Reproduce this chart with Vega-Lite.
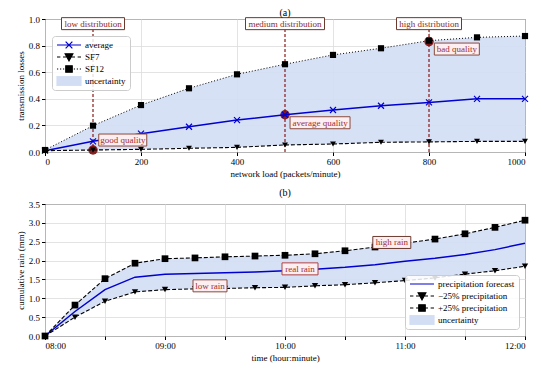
{
  "$schema": "https://vega.github.io/schema/vega-lite/v6.json",
  "padding": {"left": 15, "top": 7, "right": 5, "bottom": 2},
  "spacing": 8,
  "config": {
    "font": "Liberation Serif",
    "view": {"stroke": "#222", "strokeWidth": 1},
    "axis": {"labelFontSize": 9, "titleFontSize": 9, "labelColor": "#000", "titleColor": "#000", "titleFontWeight": "normal", "tickColor": "#000", "domain": false, "gridColor": "#dcdcdc", "gridWidth": 0.8, "tickSize": 3.5, "labelPadding": 2, "titlePadding": 3, "labelOverlap": false},
    "title": {"fontSize": 10, "fontWeight": "normal", "offset": 2, "color": "#000"},
    "legend": {"fillColor": "rgba(255,255,255,0.85)", "strokeColor": "#cccccc", "cornerRadius": 3, "padding": 4, "labelFontSize": 9, "labelColor": "#000", "symbolSize": 576, "clipHeight": 10, "labelOffset": 3, "symbolStrokeWidth": 1.2, "symbolOpacity": 1, "rowPadding": 2}
  },
  "resolve": {"scale": {"fill": "independent", "stroke": "independent", "shape": "independent"}, "legend": {"fill": "independent", "stroke": "independent", "shape": "independent"}},
  "datasets": {
    "a": [
      {"x": 0, "avg": 0.01, "sf7": 0.01, "sf12": 0.015},
      {"x": 100, "avg": 0.08, "sf7": 0.015, "sf12": 0.198},
      {"x": 200, "avg": 0.138, "sf7": 0.02, "sf12": 0.353},
      {"x": 300, "avg": 0.19, "sf7": 0.028, "sf12": 0.479},
      {"x": 400, "avg": 0.24, "sf7": 0.035, "sf12": 0.584},
      {"x": 500, "avg": 0.28, "sf7": 0.053, "sf12": 0.66},
      {"x": 600, "avg": 0.316, "sf7": 0.06, "sf12": 0.73},
      {"x": 700, "avg": 0.348, "sf7": 0.073, "sf12": 0.78},
      {"x": 800, "avg": 0.373, "sf7": 0.076, "sf12": 0.837},
      {"x": 900, "avg": 0.4, "sf7": 0.08, "sf12": 0.862},
      {"x": 1000, "avg": 0.4, "sf7": 0.08, "sf12": 0.872}
    ],
    "b": [
      {"t": 8.0, "lo": 0.0, "mid": 0.0, "hi": 0.0},
      {"t": 8.25, "lo": 0.5, "mid": 0.65, "hi": 0.82},
      {"t": 8.5, "lo": 0.92, "mid": 1.23, "hi": 1.52},
      {"t": 8.75, "lo": 1.17, "mid": 1.56, "hi": 1.93},
      {"t": 9.0, "lo": 1.23, "mid": 1.64, "hi": 2.05},
      {"t": 9.25, "lo": 1.25, "mid": 1.66, "hi": 2.07},
      {"t": 9.5, "lo": 1.26, "mid": 1.68, "hi": 2.1},
      {"t": 9.75, "lo": 1.28, "mid": 1.7, "hi": 2.12},
      {"t": 10.0, "lo": 1.29, "mid": 1.73, "hi": 2.14},
      {"t": 10.25, "lo": 1.33, "mid": 1.77, "hi": 2.18},
      {"t": 10.5, "lo": 1.36, "mid": 1.82, "hi": 2.26},
      {"t": 10.75, "lo": 1.41, "mid": 1.89, "hi": 2.36},
      {"t": 11.0, "lo": 1.47, "mid": 1.98, "hi": 2.46},
      {"t": 11.25, "lo": 1.54, "mid": 2.06, "hi": 2.57},
      {"t": 11.5, "lo": 1.64, "mid": 2.16, "hi": 2.71},
      {"t": 11.75, "lo": 1.73, "mid": 2.29, "hi": 2.88},
      {"t": 12.0, "lo": 1.85, "mid": 2.46, "hi": 3.07}
    ],
    "distA": [
      {"label": "low distribution", "x": 100, "y": 0.965},
      {"label": "medium distribution", "x": 500, "y": 0.965},
      {"label": "high distribution", "x": 800, "y": 0.965}
    ],
    "qualA": [
      {"label": "good quality", "x": 162, "y": 0.09},
      {"label": "average quality", "x": 573, "y": 0.22},
      {"label": "bad quality", "x": 858, "y": 0.774}
    ],
    "dotsA": [
      {"x": 100, "y": 0.015},
      {"x": 500, "y": 0.28},
      {"x": 800, "y": 0.83}
    ],
    "rainB": [
      {"label": "low rain", "t": 9.375, "y": 1.33},
      {"label": "real rain", "t": 10.125, "y": 1.78},
      {"label": "high rain", "t": 10.89, "y": 2.48}
    ]
  },
  "vconcat": [
    {
      "title": {"text": "(a)", "offset": -3},
      "width": 480,
      "height": 133,
      "encoding": {
        "x": {"field": "x", "type": "quantitative", "scale": {"domain": [0, 1000], "nice": false}, "axis": {"values": [0, 200, 400, 600, 800, 1000], "format": "d", "title": "network load (packets/minute)"}}
      },
      "layer": [
        {
          "data": {"name": "a"},
          "mark": {"type": "area", "color": "#d3def5", "opacity": 0.9},
          "encoding": {
            "y": {"field": "sf12", "type": "quantitative", "scale": {"domain": [0, 1], "nice": false}, "axis": {"values": [0, 0.2, 0.4, 0.6, 0.8, 1.0], "tickCount": 6, "labelOverlap": false, "format": ".1f", "title": "transmission losses"}},
            "y2": {"field": "sf7"}
          }
        },
        {
          "data": {"name": "distA"},
          "mark": {"type": "rule", "color": "#8b1a1a", "strokeDash": [3, 2], "strokeWidth": 1.2},
          "encoding": {"y": {"datum": 0, "type": "quantitative"}, "y2": {"datum": 1}}
        },
        {
          "data": {"name": "dotsA"},
          "mark": {"type": "point", "filled": true, "shape": "circle", "size": 90, "color": "#7d0c0c", "opacity": 0.9},
          "encoding": {"y": {"field": "y", "type": "quantitative"}}
        },
        {
          "data": {"name": "a"},
          "mark": {"type": "line", "color": "#0000d0", "strokeWidth": 1.5},
          "encoding": {"y": {"field": "avg", "type": "quantitative"}}
        },
        {
          "data": {"name": "a"},
          "mark": {"type": "line", "color": "#000", "strokeWidth": 1.1, "strokeDash": [4, 2]},
          "encoding": {"y": {"field": "sf7", "type": "quantitative"}}
        },
        {
          "data": {"name": "a"},
          "mark": {"type": "line", "color": "#000", "strokeWidth": 1, "strokeDash": [1, 2]},
          "encoding": {"y": {"field": "sf12", "type": "quantitative"}}
        },
        {
          "data": {"name": "a"},
          "mark": {"type": "point", "filled": false, "shape": "M-1,-1L1,1M-1,1L1,-1", "size": 36, "color": "#0000d0", "strokeWidth": 1.2, "opacity": 1},
          "encoding": {"y": {"field": "avg", "type": "quantitative"}}
        },
        {
          "data": {"name": "a"},
          "mark": {"type": "point", "filled": true, "shape": "triangle-down", "size": 35, "color": "#000", "opacity": 1},
          "encoding": {"y": {"field": "sf7", "type": "quantitative"}}
        },
        {
          "data": {"name": "a"},
          "mark": {"type": "point", "filled": true, "shape": "square", "size": 38, "color": "#000", "opacity": 1},
          "encoding": {"y": {"field": "sf12", "type": "quantitative"}}
        },
        {
          "data": {"name": "distA"},
          "transform": [{"filter": "datum.label === 'low distribution'"}],
          "mark": {"type": "point", "size": 10000, "shape": "M-0.63,-0.12H0.63V0.12H-0.63Z", "fill": "#ffffff", "stroke": "#6b3a2e", "strokeWidth": 1, "opacity": 1, "fillOpacity": 1},
          "encoding": {"y": {"field": "y", "type": "quantitative"}}
        },
        {
          "data": {"name": "distA"},
          "transform": [{"filter": "datum.label === 'medium distribution'"}],
          "mark": {"type": "point", "size": 10000, "shape": "M-0.79,-0.12H0.79V0.12H-0.79Z", "fill": "#ffffff", "stroke": "#6b3a2e", "strokeWidth": 1, "opacity": 1, "fillOpacity": 1},
          "encoding": {"y": {"field": "y", "type": "quantitative"}}
        },
        {
          "data": {"name": "distA"},
          "transform": [{"filter": "datum.label === 'high distribution'"}],
          "mark": {"type": "point", "size": 10000, "shape": "M-0.65,-0.12H0.65V0.12H-0.65Z", "fill": "#ffffff", "stroke": "#6b3a2e", "strokeWidth": 1, "opacity": 1, "fillOpacity": 1},
          "encoding": {"y": {"field": "y", "type": "quantitative"}}
        },
        {
          "data": {"name": "qualA"},
          "transform": [{"filter": "datum.label === 'good quality'"}],
          "mark": {"type": "point", "size": 10000, "shape": "M-0.48,-0.12H0.48V0.12H-0.48Z", "fill": "#fdeef1", "stroke": "#8b4a3c", "strokeWidth": 1, "opacity": 1, "fillOpacity": 1},
          "encoding": {"y": {"field": "y", "type": "quantitative"}}
        },
        {
          "data": {"name": "qualA"},
          "transform": [{"filter": "datum.label === 'average quality'"}],
          "mark": {"type": "point", "size": 10000, "shape": "M-0.6,-0.12H0.6V0.12H-0.6Z", "fill": "#fdeef1", "stroke": "#8b4a3c", "strokeWidth": 1, "opacity": 1, "fillOpacity": 1},
          "encoding": {"y": {"field": "y", "type": "quantitative"}}
        },
        {
          "data": {"name": "qualA"},
          "transform": [{"filter": "datum.label === 'bad quality'"}],
          "mark": {"type": "point", "size": 10000, "shape": "M-0.45,-0.12H0.45V0.12H-0.45Z", "fill": "#fdeef1", "stroke": "#8b4a3c", "strokeWidth": 1, "opacity": 1, "fillOpacity": 1},
          "encoding": {"y": {"field": "y", "type": "quantitative"}}
        },
        {
          "data": {"name": "distA"},
          "mark": {"type": "text", "font": "Liberation Serif", "fontSize": 9, "color": "#8b2a2a", "baseline": "middle"},
          "encoding": {"y": {"field": "y", "type": "quantitative"}, "text": {"field": "label"}}
        },
        {
          "data": {"name": "qualA"},
          "mark": {"type": "text", "font": "Liberation Serif", "fontSize": 9, "color": "#a0302f", "baseline": "middle"},
          "encoding": {"y": {"field": "y", "type": "quantitative"}, "text": {"field": "label"}}
        },
        {
          "data": {"name": "a"},
          "transform": [{"filter": "false"}],
          "mark": {"type": "point", "strokeWidth": 1.2, "opacity": 1},
          "encoding": {
            "fill": {"field": "seriesA", "type": "nominal", "scale": {"domain": ["average", "SF7", "SF12", "uncertainty"], "range": ["#0000d0", "#000000", "#000000", "#d3def5"]}, "legend": {"title": null, "orient": "none", "legendX": 7, "legendY": 17}},
            "stroke": {"field": "seriesA", "type": "nominal", "scale": {"domain": ["average", "SF7", "SF12", "uncertainty"], "range": ["#0000d0", "#000000", "#000000", "#d3def5"]}, "legend": {"title": null, "orient": "none", "legendX": 7, "legendY": 17}},
            "shape": {"field": "seriesA", "type": "nominal", "scale": {"domain": ["average", "SF7", "SF12", "uncertainty"], "range": ["M-1,0H1M-0.28,-0.28L0.28,0.28M-0.28,0.28L0.28,-0.28", "M-1,0H-0.72M-0.5,0H-0.22M0.22,0H0.5M0.72,0H1M-0.32,-0.27H0.32L0,0.32Z", "M-1,0H-0.9M-0.75,0H-0.65M-0.5,0H-0.4M0.4,0H0.5M0.65,0H0.75M0.9,0H1M-0.27,-0.27H0.27V0.27H-0.27Z", "M-1,-0.4H1V0.4H-1Z"]}, "legend": {"title": null, "orient": "none", "legendX": 7, "legendY": 17}}
          }
        }
      ]
    },
    {
      "title": {"text": "(b)", "offset": 2},
      "width": 480,
      "height": 132,
      "encoding": {
        "x": {"field": "t", "type": "quantitative", "scale": {"domain": [8, 12], "nice": false}, "axis": {"values": [8, 8.5, 9, 9.5, 10, 10.5, 11, 11.5, 12], "labelExpr": "datum.value % 1 === 0 ? (datum.value < 10 ? '0' : '') + datum.value + ':00' : ''", "title": "time (hour:minute)"}}
      },
      "layer": [
        {
          "data": {"name": "b"},
          "mark": {"type": "area", "color": "#d3def5", "opacity": 0.9},
          "encoding": {
            "y": {"field": "hi", "type": "quantitative", "scale": {"domain": [0, 3.5], "nice": false}, "axis": {"values": [0, 0.5, 1, 1.5, 2, 2.5, 3, 3.5], "tickCount": 8, "labelOverlap": false, "format": ".1f", "title": "cumulative rain (mm)"}},
            "y2": {"field": "lo"}
          }
        },
        {
          "data": {"name": "b"},
          "mark": {"type": "line", "color": "#0000d0", "strokeWidth": 1.5},
          "encoding": {"y": {"field": "mid", "type": "quantitative"}}
        },
        {
          "data": {"name": "b"},
          "mark": {"type": "line", "color": "#000", "strokeWidth": 1.1, "strokeDash": [4, 2]},
          "encoding": {"y": {"field": "hi", "type": "quantitative"}}
        },
        {
          "data": {"name": "b"},
          "mark": {"type": "line", "color": "#000", "strokeWidth": 1.1, "strokeDash": [4, 2]},
          "encoding": {"y": {"field": "lo", "type": "quantitative"}}
        },
        {
          "data": {"name": "b"},
          "mark": {"type": "point", "filled": true, "shape": "square", "size": 45, "color": "#000", "opacity": 1},
          "encoding": {"y": {"field": "hi", "type": "quantitative"}}
        },
        {
          "data": {"name": "b"},
          "mark": {"type": "point", "filled": true, "shape": "triangle-down", "size": 40, "color": "#000", "opacity": 1},
          "encoding": {"y": {"field": "lo", "type": "quantitative"}}
        },
        {
          "data": {"name": "rainB"},
          "transform": [{"filter": "datum.label === 'low rain'"}],
          "mark": {"type": "point", "size": 10000, "shape": "M-0.34,-0.12H0.34V0.12H-0.34Z", "fill": "#fdeef1", "stroke": "#8b4a3c", "strokeWidth": 1, "opacity": 1, "fillOpacity": 1},
          "encoding": {"y": {"field": "y", "type": "quantitative"}}
        },
        {
          "data": {"name": "rainB"},
          "transform": [{"filter": "datum.label === 'real rain'"}],
          "mark": {"type": "point", "size": 10000, "shape": "M-0.36,-0.12H0.36V0.12H-0.36Z", "fill": "#fdeef1", "stroke": "#b04040", "strokeWidth": 1, "opacity": 1, "fillOpacity": 1},
          "encoding": {"y": {"field": "y", "type": "quantitative"}}
        },
        {
          "data": {"name": "rainB"},
          "transform": [{"filter": "datum.label === 'high rain'"}],
          "mark": {"type": "point", "size": 10000, "shape": "M-0.38,-0.12H0.38V0.12H-0.38Z", "fill": "#fdeef1", "stroke": "#6b3a2e", "strokeWidth": 1, "opacity": 1, "fillOpacity": 1},
          "encoding": {"y": {"field": "y", "type": "quantitative"}}
        },
        {
          "data": {"name": "rainB"},
          "mark": {"type": "text", "font": "Liberation Serif", "fontSize": 9, "color": "#a0302f", "baseline": "middle"},
          "encoding": {"y": {"field": "y", "type": "quantitative"}, "text": {"field": "label"}}
        },
        {
          "data": {"name": "b"},
          "transform": [{"filter": "false"}],
          "mark": {"type": "point", "strokeWidth": 1.2, "opacity": 1},
          "encoding": {
            "fill": {"field": "seriesB", "type": "nominal", "scale": {"domain": ["precipitation forecast", "−25% precipitation", "+25% precipitation", "uncertainty"], "range": ["#0000d0", "#000000", "#000000", "#d3def5"]}, "legend": {"title": null, "orient": "none", "legendX": 360, "legendY": 71}},
            "stroke": {"field": "seriesB", "type": "nominal", "scale": {"domain": ["precipitation forecast", "−25% precipitation", "+25% precipitation", "uncertainty"], "range": ["#0000d0", "#000000", "#000000", "#d3def5"]}, "legend": {"title": null, "orient": "none", "legendX": 360, "legendY": 71}},
            "shape": {"field": "seriesB", "type": "nominal", "scale": {"domain": ["precipitation forecast", "−25% precipitation", "+25% precipitation", "uncertainty"], "range": ["M-1,0H1", "M-1,0H-0.72M-0.5,0H-0.22M0.22,0H0.5M0.72,0H1M-0.32,-0.27H0.32L0,0.32Z", "M-1,0H-0.72M-0.5,0H-0.22M0.22,0H0.5M0.72,0H1M-0.27,-0.27H0.27V0.27H-0.27Z", "M-1,-0.4H1V0.4H-1Z"]}, "legend": {"title": null, "orient": "none", "legendX": 360, "legendY": 71}}
          }
        }
      ]
    }
  ]
}
